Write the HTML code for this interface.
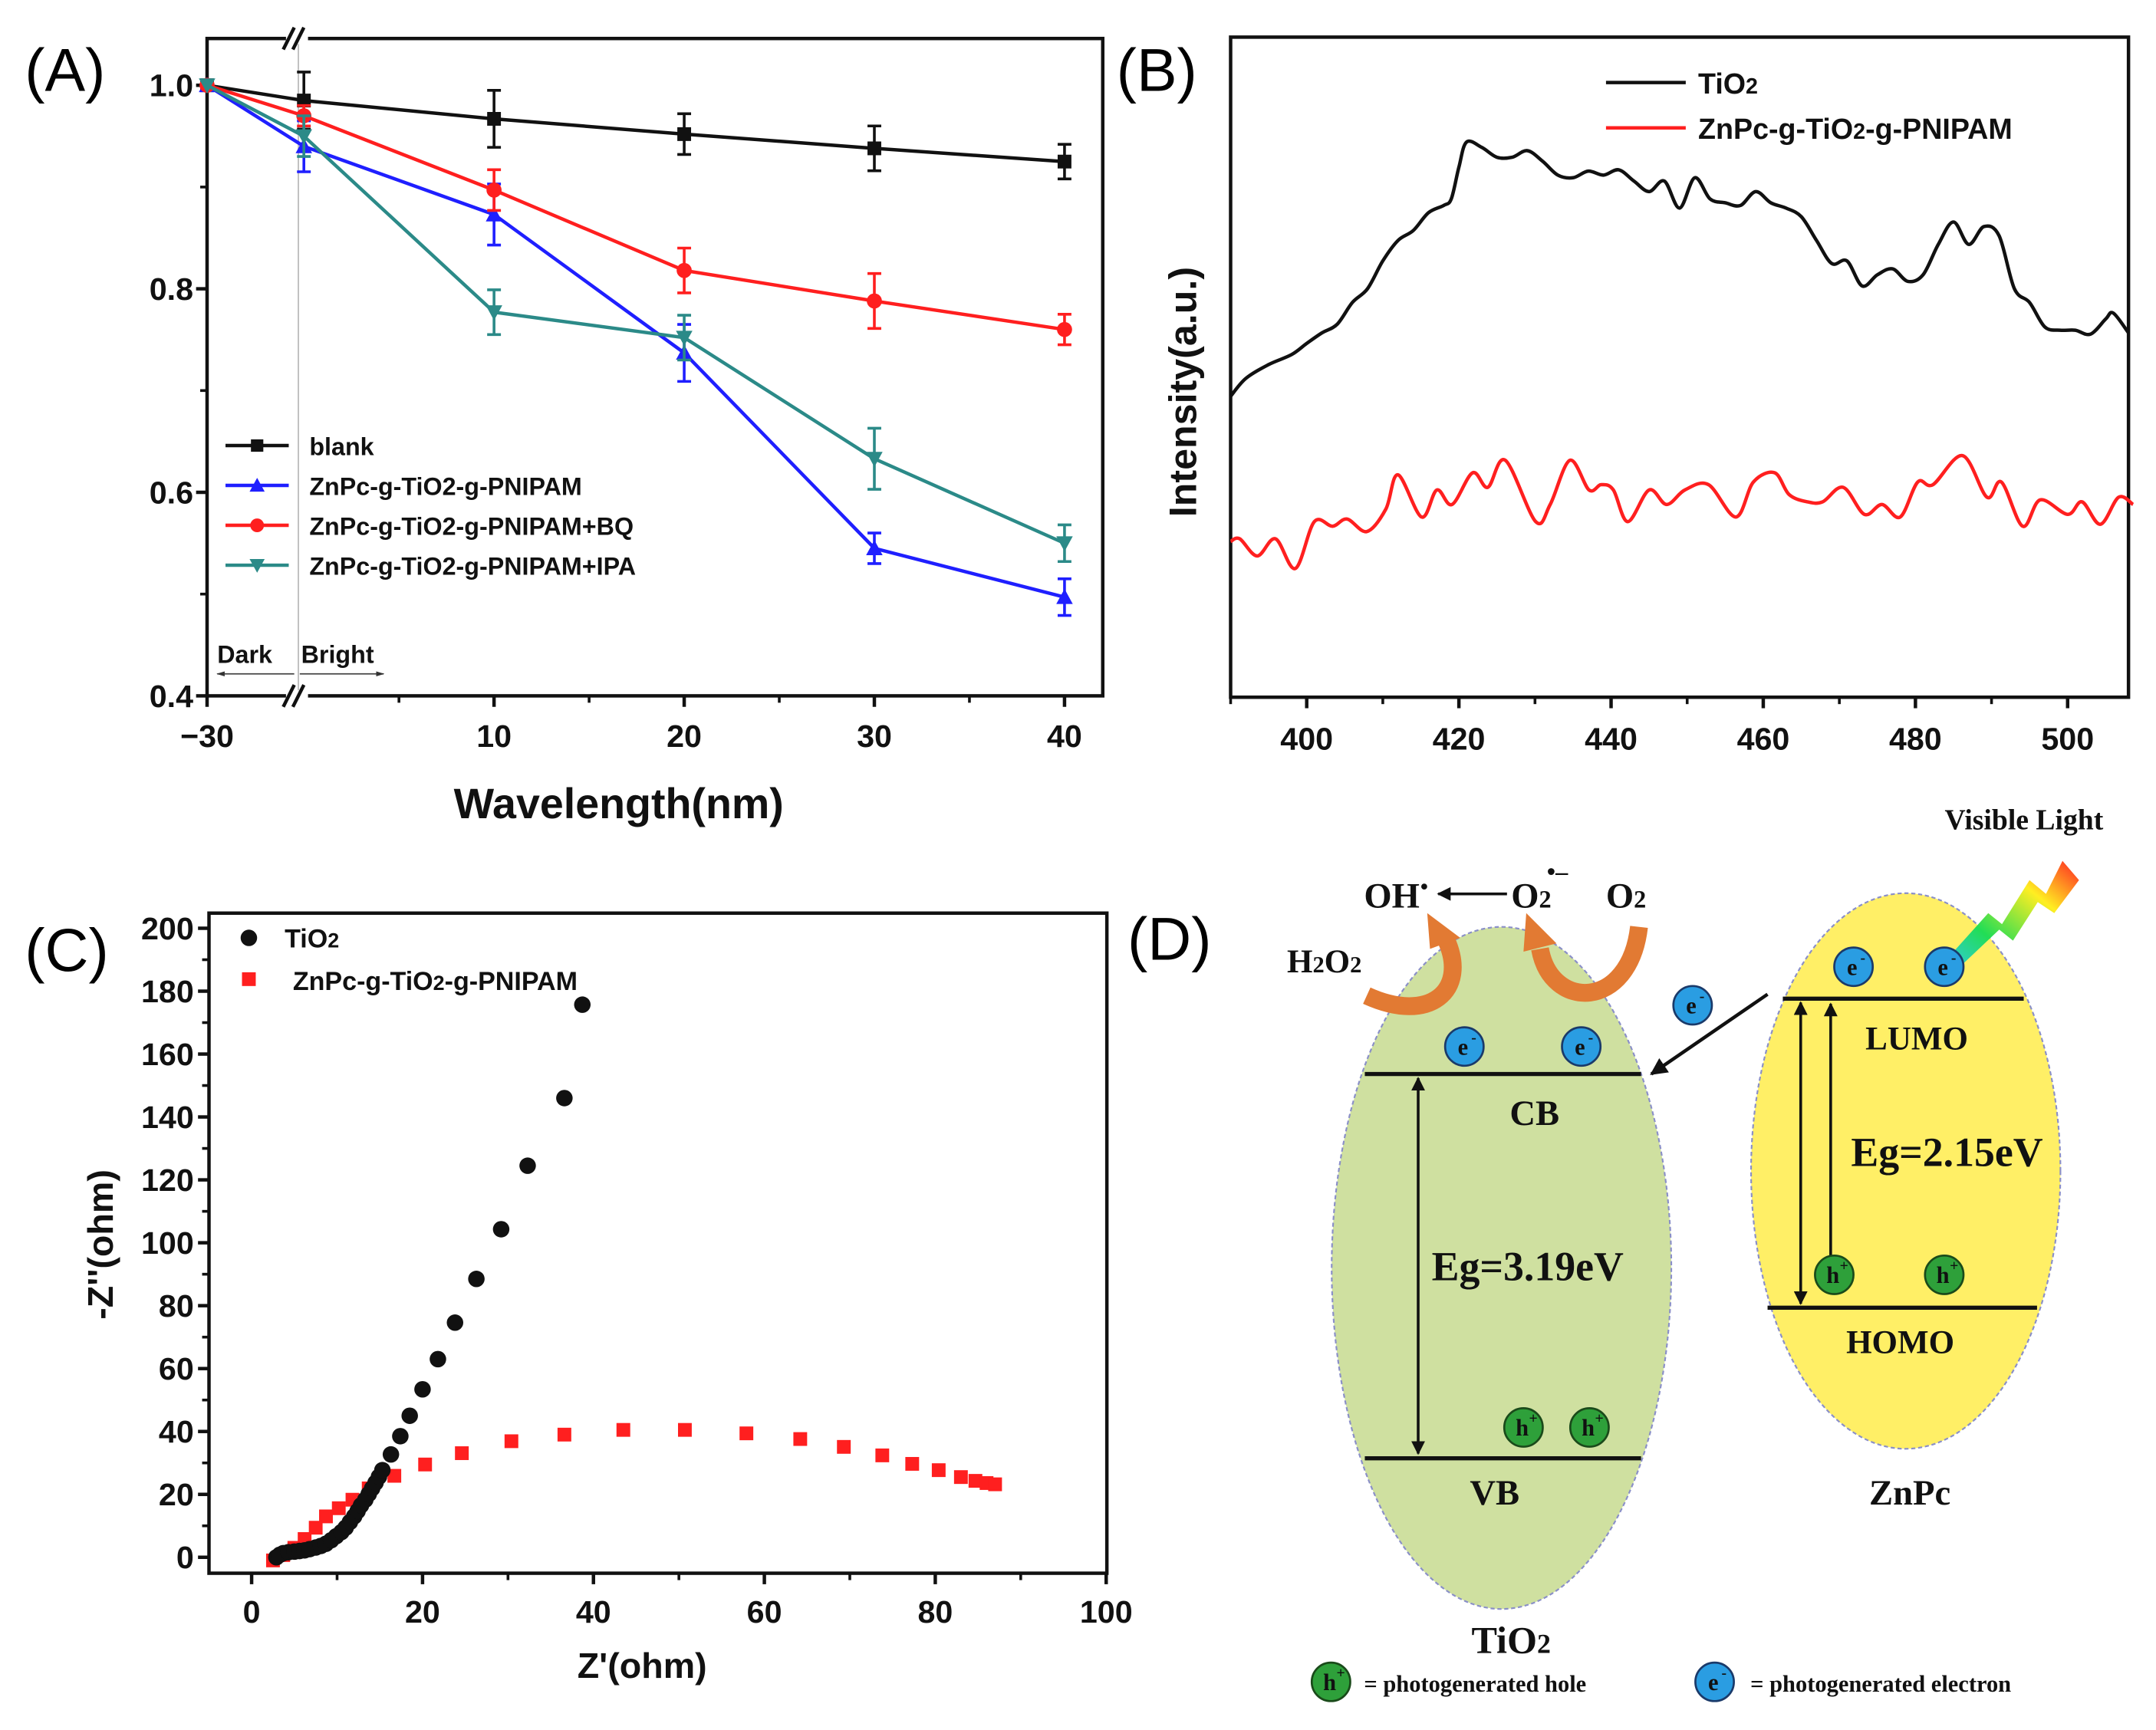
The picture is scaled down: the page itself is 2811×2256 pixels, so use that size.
<!DOCTYPE html>
<html><head><meta charset="utf-8"><style>
html,body{margin:0;padding:0;background:#fff;}
svg{display:block;}
text{font-family:"Liberation Sans",Arial,sans-serif;}
.serif{font-family:"Liberation Serif","Times New Roman",serif;font-weight:bold;}
.tick{font-size:23px;font-weight:bold;fill:#111;}
.leg{font-size:18px;font-weight:bold;fill:#111;}
</style></head><body>
<svg id="fig" width="2811" height="2256" viewBox="0 0 1568 1258" preserveAspectRatio="none" xmlns="http://www.w3.org/2000/svg">
<defs>
<linearGradient id="lg" x1="0" y1="1" x2="1" y2="0">
<stop offset="0" stop-color="#33c8ff"/><stop offset="0.35" stop-color="#22dd55"/><stop offset="0.7" stop-color="#ffee22"/><stop offset="1" stop-color="#ff2222"/></linearGradient>
<marker id="ah" viewBox="0 0 10 10" refX="9" refY="5" markerWidth="5" markerHeight="5" orient="auto-start-reverse"><path d="M0,0 L10,5 L0,10 z" fill="#111"/></marker>
<marker id="ahg" viewBox="0 0 10 10" refX="9" refY="5" markerWidth="8" markerHeight="6" orient="auto-start-reverse"><path d="M0,2 L10,5 L0,8 z" fill="#333"/></marker>
</defs>
<g id="pa"></g>
<g id="pb"></g>
<g id="pc"></g>
<g id="pd"></g>
</svg>
<script>
// ---------- Panel A data ----------
const aX = [-30, 0, 10, 20, 30, 40];
const aXTicks = [-30, 10, 20, 30, 40];
const aYTicks = [0.4, 0.6, 0.8, 1.0];
const aNames = ["blank", "ZnPc-g-TiO2-g-PNIPAM", "ZnPc-g-TiO2-g-PNIPAM+BQ", "ZnPc-g-TiO2-g-PNIPAM+IPA"];
const aBlank = [1.0, 0.985, 0.967, 0.952, 0.938, 0.925];
const aBlue = [1.0, 0.94, 0.873, 0.737, 0.545, 0.497];
const aRed = [1.0, 0.97, 0.897, 0.818, 0.788, 0.76];
const aTeal = [1.0, 0.95, 0.777, 0.752, 0.633, 0.55];
const aBlankErr = [0, 0.028, 0.028, 0.02, 0.022, 0.017];
const aBlueErr = [0, 0.025, 0.03, 0.028, 0.015, 0.018];
const aRedErr = [0, 0.01, 0.02, 0.022, 0.027, 0.015];
const aTealErr = [0, 0.02, 0.022, 0.022, 0.03, 0.018];
// ---------- Panel B data ----------
const bXTicks = [400, 420, 440, 460, 480, 500];
const bTiO2X = [390,392,395,398,400,402,404,406,408,410,412,414,416,418,419,420,421,423,425,427,429,431,433,435,437,439,441,443,445,447,449,451,453,455,457,459,461,463,465,467,469,471,473,475,477,479,481,483,485,487,489,491,493,495,497,499,501,503,505,506,508];
const bTiO2Y = [45.6,48.3,50.4,51.9,53.6,55.2,56.5,59.8,61.9,66.1,69.2,70.7,73.4,74.5,75.5,80.3,84.1,83.3,81.8,81.8,82.8,81.2,79.1,78.7,79.7,79.1,79.9,78.2,76.6,78.2,74.1,78.7,75.5,74.9,74.5,76.6,74.9,74.1,72.8,69.2,65.7,66.1,62.3,64.0,64.9,63.0,64.0,68.6,72.0,68.6,71.3,69.9,61.9,59.8,56.1,55.6,55.6,55.0,57.3,58.2,55.2];
const bZnX = [390,391.2,393.5,395.9,398.5,401,403.4,405.3,407.9,410.4,412,415.1,417.1,419.1,421.8,423.8,426.1,430.1,432,434.6,437.1,438.7,440.3,442.2,445,447.3,449.7,452.8,456.4,458.7,461.5,463.4,465.8,467.8,470.5,473.3,475.6,478,480.3,482.3,486.2,489.4,491.3,494.1,496.4,500,501.9,504.3,506.7,508.6];
const bZnY = [23.6,24.0,21.4,24.0,19.5,26.6,25.9,27.0,25.1,28.5,33.7,27.3,31.4,29.2,34.0,31.8,35.9,26.6,29.2,35.9,31.4,32.2,31.4,26.6,31.4,29.2,31.4,32.2,27.3,32.6,34.0,30.7,29.6,29.6,31.8,27.7,29.2,27.3,32.6,32.2,36.6,30.3,32.6,25.9,29.9,27.7,29.6,26.2,30.3,29.2];
// ---------- Panel C data ----------
const cXTicks = [0, 20, 40, 60, 80, 100];
const cYTicks = [0, 20, 40, 60, 80, 100, 120, 140, 160, 180, 200];
const cTiO2X = [2.9,3.3,3.7,4.3,5,5.6,6.2,6.8,7.5,8.1,8.7,9.3,9.9,10.5,11,11.5,12,12.4,12.8,13.3,13.7,14.1,14.5,14.9,15.3,16.3,17.4,18.5,20,21.8,23.8,26.3,29.2,32.3,36.6,38.7];
const cTiO2Y = [0,0.8,1.3,1.6,1.8,2,2.2,2.6,3.1,3.6,4.3,5.4,6.7,8,9.4,11.2,13,14.7,16.5,18.3,20.1,21.9,23.7,25.6,27.7,32.7,38.5,45,53.4,63,74.6,88.5,104.3,124.5,146,175.7];
const cZnX = [2.5,3.7,5,6.2,7.5,8.7,10.2,11.8,13.7,16.7,20.3,24.6,30.4,36.6,43.5,50.7,57.9,64.2,69.3,73.8,77.3,80.4,83,84.7,86,87];
const cZnY = [-1,0.7,3,5.8,9.4,13,15.6,18.3,21.9,25.9,29.5,33.1,36.9,39,40.5,40.5,39.4,37.6,35.1,32.4,29.7,27.7,25.5,24.3,23.6,23.2];

const NS = "http://www.w3.org/2000/svg";
function mk(parent, tag, attrs, txt) {
  const e = document.createElementNS(NS, tag);
  for (const k in attrs) e.setAttribute(k, attrs[k]);
  if (txt !== undefined) e.textContent = txt;
  parent.appendChild(e);
  return e;
}
function smoothPath(pts) {
  let d = 'M' + pts[0][0] + ',' + pts[0][1];
  for (let i = 0; i < pts.length - 1; i++) {
    const p0 = pts[Math.max(0, i - 1)], p1 = pts[i], p2 = pts[i + 1], p3 = pts[Math.min(pts.length - 1, i + 2)];
    const c1x = p1[0] + (p2[0] - p0[0]) / 6, c1y = p1[1] + (p2[1] - p0[1]) / 6;
    const c2x = p2[0] - (p3[0] - p1[0]) / 6, c2y = p2[1] - (p3[1] - p1[1]) / 6;
    d += ` C${c1x},${c1y} ${c2x},${c2y} ${p2[0]},${p2[1]}`;
  }
  return d;
}

// ===================== PANEL A =====================
(function(){
  const g = document.getElementById('pa');
  const L = 150.6, R = 802, T = 28, B = 506;
  const xA = v => v <= -30 ? L : 221 + v * 13.83;
  const yA = v => 506 - (v - 0.4) * 740;
  let t = mk(g, 'text', {x: 18, y: 66, 'font-size': 44});
  t.textContent = '(A)';
  
  
  let f = mk(g, 'rect', {x: L, y: T, width: R - L, height: B - T, fill: 'none', stroke: '#111', 'stroke-width': 2.5});
  
  
  mk(g, 'line', {x1: 217, y1: T, x2: 217, y2: B, stroke: '#bbb', 'stroke-width': 1});
  for (const yy of [T, B]) {
    mk(g, 'rect', {x: 208, y: yy - 4, width: 16, height: 8, fill: '#fff'});
    mk(g, 'line', {x1: 206, y1: yy + 8, x2: 214, y2: yy - 8, stroke: '#111', 'stroke-width': 2.5});
    mk(g, 'line', {x1: 213, y1: yy + 8, x2: 221, y2: yy - 8, stroke: '#111', 'stroke-width': 2.5});
  }
  aXTicks.forEach(v => {
    const x = xA(v);
    const tk = mk(g, 'line', {x1: x, y1: B, x2: x, y2: B + 8, stroke: '#111', 'stroke-width': 2.5});
    
    
    const lb = mk(g, 'text', {x: x, y: B + 37, 'text-anchor': 'middle', class: 'tick'}, v < 0 ? '\u221230' : String(v));
    
    
  });
  [5, 15, 25, 35].forEach(v => mk(g, 'line', {x1: xA(v), y1: B, x2: xA(v), y2: B + 5, stroke: '#111', 'stroke-width': 2}));
  aYTicks.forEach(v => {
    const y = yA(v);
    mk(g, 'line', {x1: L - 8, y1: y, x2: L, y2: y, stroke: '#111', 'stroke-width': 2.5});
    const lb = mk(g, 'text', {x: L - 10, y: y + 8, 'text-anchor': 'end', class: 'tick'}, v.toFixed(1));
    
    
  });
  [0.5, 0.7, 0.9].forEach(v => mk(g, 'line', {x1: L - 5, y1: yA(v), x2: L, y2: yA(v), stroke: '#111', 'stroke-width': 2}));
  let xt = mk(g, 'text', {x: 450, y: 595, 'text-anchor': 'middle', 'font-size': 31, 'font-weight': 'bold', fill: '#111'}, 'Wavelength(nm)');
  
  
  mk(g, 'text', {x: 158, y: 482, class: 'leg'}, 'Dark');
  mk(g, 'text', {x: 219, y: 482, class: 'leg'}, 'Bright');
  mk(g, 'line', {x1: 214, y1: 490, x2: 158, y2: 490, stroke: '#444', 'stroke-width': 1, 'marker-end': 'url(#ahg)'});
  mk(g, 'line', {x1: 218, y1: 490, x2: 279, y2: 490, stroke: '#444', 'stroke-width': 1, 'marker-end': 'url(#ahg)'});

  const series = [
    {vals: aBlank, err: aBlankErr, col: '#111', m: 'sq', name: 'blank'},
    {vals: aBlue, err: aBlueErr, col: '#1f1fff', m: 'up', name: 'znpc'},
    {vals: aRed, err: aRedErr, col: '#ff1f1f', m: 'ci', name: 'bq'},
    {vals: aTeal, err: aTealErr, col: '#2b8a88', m: 'dn', name: 'ipa'}
  ];
  function marker(p, kind, x, y, col, s) {
    if (kind === 'sq') return mk(p, 'rect', {x: x - s, y: y - s, width: 2 * s, height: 2 * s, fill: col});
    if (kind === 'ci') return mk(p, 'circle', {cx: x, cy: y, r: s + 0.5, fill: col});
    if (kind === 'up') return mk(p, 'path', {d: `M${x},${y - s - 1} L${x + s + 1},${y + s} L${x - s - 1},${y + s} Z`, fill: col});
    return mk(p, 'path', {d: `M${x},${y + s + 1} L${x + s + 1},${y - s} L${x - s - 1},${y - s} Z`, fill: col});
  }
  series.forEach((s) => {
    const sg = mk(g, 'g', {});
    
    
    const d = s.vals.map((v, i) => (i ? 'L' : 'M') + xA(aX[i]) + ',' + yA(v)).join(' ');
    const ln = mk(sg, 'path', {d: d, fill: 'none', stroke: s.col, 'stroke-width': 2.5});
    
    
    s.vals.forEach((v, i) => {
      const x = xA(aX[i]), y = yA(v), e = s.err[i] * 740;
      if (e > 0) {
        mk(sg, 'path', {d: `M${x},${y - e} V${y + e} M${x - 5},${y - e} H${x + 5} M${x - 5},${y + e} H${x + 5}`, stroke: s.col, 'stroke-width': 2, fill: 'none'});
      }
      const mm = marker(sg, s.m, x, y, s.col, 5);
      
      
    });
    const li = series.indexOf(s);
    const ly = 324 + li * 29;
    const le = mk(g, 'g', {});
    
    
    mk(le, 'line', {x1: 164, y1: ly, x2: 210, y2: ly, stroke: s.col, 'stroke-width': 2.5});
    marker(le, s.m, 187, ly, s.col, 4.5);
    mk(le, 'text', {x: 225, y: ly + 7, class: 'leg'}, aNames[li]);
  });
})();

// ===================== PANEL B =====================
(function(){
  const g = document.getElementById('pb');
  const L = 895, R = 1548, T = 27, B = 507;
  const xB = v => L + (v - 390) * (R - L) / 118;
  const yB = v => B - v * 4.8;
  let t = mk(g, 'text', {x: 812, y: 66, 'font-size': 44}, '(B)');
  
  
  let f = mk(g, 'rect', {x: L, y: T, width: R - L, height: B - T, fill: 'none', stroke: '#111', 'stroke-width': 2.5});
  
  
  bXTicks.forEach(v => {
    mk(g, 'line', {x1: xB(v), y1: B, x2: xB(v), y2: B + 8, stroke: '#111', 'stroke-width': 2.5});
    const lb = mk(g, 'text', {x: xB(v), y: B + 38, 'text-anchor': 'middle', class: 'tick'}, String(v));
    
    
  });
  [390, 410, 430, 450, 470, 490].forEach(v => mk(g, 'line', {x1: xB(v), y1: B, x2: xB(v), y2: B + 5, stroke: '#111', 'stroke-width': 2}));
  let yt = mk(g, 'text', {x: 0, y: 0, transform: 'translate(870,285) rotate(-90)', 'text-anchor': 'middle', 'font-size': 28, 'font-weight': 'bold', fill: '#111'}, 'Intensity(a.u.)');
  
  
  const l1 = mk(g, 'path', {d: smoothPath(bTiO2X.map((x, i) => [xB(x), yB(bTiO2Y[i])])), fill: 'none', stroke: '#111', 'stroke-width': 2.5, 'stroke-linejoin': 'round'});
  
  
  const l2 = mk(g, 'path', {d: smoothPath(bZnX.map((x, i) => [xB(x), yB(bZnY[i])])), fill: 'none', stroke: '#ff1f1f', 'stroke-width': 2.5, 'stroke-linejoin': 'round'});
  
  
  const le1 = mk(g, 'g', {});
  
  
  mk(le1, 'line', {x1: 1168, y1: 60, x2: 1226, y2: 60, stroke: '#111', 'stroke-width': 2.5});
  const t1 = mk(le1, 'text', {x: 1235, y: 68, 'font-size': 21, 'font-weight': 'bold', fill: '#111'}, 'TiO');
  mk(t1, 'tspan', {'font-size': 16}, '2');
  const le2 = mk(g, 'g', {});
  
  
  mk(le2, 'line', {x1: 1168, y1: 93, x2: 1226, y2: 93, stroke: '#ff1f1f', 'stroke-width': 2.5});
  const t2 = mk(le2, 'text', {x: 1235, y: 101, 'font-size': 21, 'font-weight': 'bold', fill: '#111'}, 'ZnPc-g-TiO');
  mk(t2, 'tspan', {'font-size': 16}, '2');
  mk(t2, 'tspan', {}, '-g-PNIPAM');
})();

// ===================== PANEL C =====================
(function(){
  const g = document.getElementById('pc');
  const L = 152, R = 805, T = 664, B = 1144;
  const xC = v => 183 + v * 6.215;
  const yC = v => 1132.4 - v * 2.287;
  let t = mk(g, 'text', {x: 18, y: 706, 'font-size': 44}, '(C)');
  
  
  let f = mk(g, 'rect', {x: L, y: T, width: R - L, height: B - T, fill: 'none', stroke: '#111', 'stroke-width': 2.5});
  
  
  cXTicks.forEach(v => {
    mk(g, 'line', {x1: xC(v), y1: B, x2: xC(v), y2: B + 8, stroke: '#111', 'stroke-width': 2.5});
    const lb = mk(g, 'text', {x: xC(v), y: B + 36, 'text-anchor': 'middle', class: 'tick'}, String(v));
    
    
    if (v < 100) mk(g, 'line', {x1: xC(v + 10), y1: B, x2: xC(v + 10), y2: B + 5, stroke: '#111', 'stroke-width': 2});
  });
  cYTicks.forEach(v => {
    mk(g, 'line', {x1: L - 8, y1: yC(v), x2: L, y2: yC(v), stroke: '#111', 'stroke-width': 2.5});
    const lb = mk(g, 'text', {x: L - 11, y: yC(v) + 8, 'text-anchor': 'end', class: 'tick'}, String(v));
    
    
    if (v < 200) mk(g, 'line', {x1: L - 5, y1: yC(v + 10), x2: L, y2: yC(v + 10), stroke: '#111', 'stroke-width': 2});
  });
  let xt = mk(g, 'text', {x: 467, y: 1220, 'text-anchor': 'middle', 'font-size': 26, 'font-weight': 'bold', fill: '#111'}, "Z'(ohm)");
  
  
  let yt = mk(g, 'text', {x: 0, y: 0, transform: 'translate(82,905) rotate(-90)', 'text-anchor': 'middle', 'font-size': 26, 'font-weight': 'bold', fill: '#111'}, "-Z''(ohm)");
  
  
  cZnX.forEach((x, i) => {
    const p = mk(g, 'rect', {x: xC(x) - 5, y: yC(cZnY[i]) - 5, width: 10, height: 10, fill: '#ff1f1f'});
    
    
  });
  cTiO2X.forEach((x, i) => {
    const p = mk(g, 'circle', {cx: xC(x), cy: yC(cTiO2Y[i]), r: 6, fill: '#111'});
    
    
  });
  const le1 = mk(g, 'g', {});
  
  
  mk(le1, 'circle', {cx: 181, cy: 682, r: 6, fill: '#111'});
  const t1 = mk(le1, 'text', {x: 207, y: 689, 'font-size': 19, 'font-weight': 'bold', fill: '#111'}, 'TiO');
  mk(t1, 'tspan', {'font-size': 15}, '2');
  const le2 = mk(g, 'g', {});
  
  
  mk(le2, 'rect', {x: 176, y: 707, width: 10, height: 10, fill: '#ff1f1f'});
  const t2 = mk(le2, 'text', {x: 213, y: 720, 'font-size': 19, 'font-weight': 'bold', fill: '#111'}, 'ZnPc-g-TiO');
  mk(t2, 'tspan', {'font-size': 15}, '2');
  mk(t2, 'tspan', {}, '-g-PNIPAM');
})();

// ===================== PANEL D =====================
(function(){
  const g = document.getElementById('pd');
  let t = mk(g, 'text', {x: 820, y: 698, 'font-size': 44}, '(D)');
  
  
  const e1 = mk(g, 'ellipse', {cx: 1092, cy: 922, rx: 123.5, ry: 248, fill: '#cfe0a0', stroke: '#8a8fc8', 'stroke-width': 1.2, 'stroke-dasharray': '3 2'});
  
  
  const e2 = mk(g, 'ellipse', {cx: 1386, cy: 851.5, rx: 112.5, ry: 202, fill: '#ffef66', stroke: '#8a8fc8', 'stroke-width': 1.2, 'stroke-dasharray': '3 2'});
  
  
  const lines = [[992.6, 1193.5, 781, 'cb-level'], [992.6, 1193.5, 1060.4, 'vb-level'], [1296.6, 1471.8, 726.2, 'lumo-level'], [1285.5, 1481.5, 950.9, 'homo-level']];
  lines.forEach(l => {
    const e = mk(g, 'line', {x1: l[0], x2: l[1], y1: l[2], y2: l[2], stroke: '#111', 'stroke-width': 3});
    
    
  });
  mk(g, 'line', {x1: 1031.4, y1: 784, x2: 1031.4, y2: 1057, stroke: '#111', 'stroke-width': 2, 'marker-start': 'url(#ah)', 'marker-end': 'url(#ah)'});
  mk(g, 'line', {x1: 1309.6, y1: 729, x2: 1309.6, y2: 948, stroke: '#111', 'stroke-width': 2, 'marker-start': 'url(#ah)', 'marker-end': 'url(#ah)'});
  mk(g, 'line', {x1: 1331.4, y1: 918, x2: 1331.4, y2: 730, stroke: '#111', 'stroke-width': 2, 'marker-end': 'url(#ah)'});
  mk(g, 'line', {x1: 1285.5, y1: 723, x2: 1201, y2: 781, stroke: '#111', 'stroke-width': 2.5, 'marker-end': 'url(#ah)'});
  const labs = [['CB', 1116, 818, 26], ['VB', 1087, 1094, 26], ['LUMO', 1394, 763, 24], ['HOMO', 1382, 984, 24], ['Eg=3.19eV', 1111, 931, 30], ['Eg=2.15eV', 1416, 848, 30], ['ZnPc', 1389, 1094, 26]];
  labs.forEach(l => {
    const e = mk(g, 'text', {x: l[1], y: l[2], 'text-anchor': 'middle', class: 'serif', 'font-size': l[3], fill: '#111'}, l[0]);
    
    
  });
  const tt = mk(g, 'text', {x: 1099, y: 1202, 'text-anchor': 'middle', class: 'serif', 'font-size': 28, fill: '#111'}, 'TiO');
  mk(tt, 'tspan', {'font-size': 20}, '2');
  mk(g, 'path', {d: 'M994,724 C1040,745 1068,720 1052,684', fill: 'none', stroke: '#e27a33', 'stroke-width': 13});
  mk(g, 'path', {d: 'M1038,664 L1062,682 L1040,690 Z', fill: '#e27a33'});
  mk(g, 'path', {d: 'M1192,674 C1185,735 1128,735 1120,690', fill: 'none', stroke: '#e27a33', 'stroke-width': 13});
  mk(g, 'path', {d: 'M1110,664 L1132,686 L1108,692 Z', fill: '#e27a33'});
  const oh = mk(g, 'text', {x: 992, y: 660, class: 'serif', 'font-size': 26, fill: '#111'}, 'OH');
  
  
  mk(g, 'text', {x: 1033, y: 650, class: 'serif', 'font-size': 16, fill: '#111'}, '\u2022');
  mk(g, 'line', {x1: 1096, y1: 650, x2: 1046, y2: 650, stroke: '#111', 'stroke-width': 2, 'marker-end': 'url(#ah)'});
  const o2r = mk(g, 'text', {x: 1099, y: 660, class: 'serif', 'font-size': 26, fill: '#111'}, 'O');
  mk(o2r, 'tspan', {'font-size': 18}, '2');
  mk(g, 'text', {x: 1125, y: 640, class: 'serif', 'font-size': 18, fill: '#111'}, '\u2022\u2013');
  const o2 = mk(g, 'text', {x: 1168, y: 660, class: 'serif', 'font-size': 26, fill: '#111'}, 'O');
  mk(o2, 'tspan', {'font-size': 18}, '2');
  const h2 = mk(g, 'text', {x: 936, y: 707, class: 'serif', 'font-size': 24, fill: '#111'}, 'H');
  mk(h2, 'tspan', {'font-size': 17}, '2');
  mk(h2, 'tspan', {}, 'O');
  mk(h2, 'tspan', {'font-size': 17}, '2');
  const vl = mk(g, 'text', {x: 1472, y: 603, 'text-anchor': 'middle', class: 'serif', 'font-size': 21, fill: '#111'}, 'Visible Light');
  
  
  const lt = mk(g, 'path', {d: 'M1410,704 L1446,664 L1456,672 L1476,640 L1488,650 L1500,626 L1512,640 L1494,664 L1482,656 L1464,684 L1454,676 L1418,710 Z', fill: 'url(#lg)'});
  
  
  function elec(x, y, nm) {
    const e = mk(g, 'g', {});
    
    
    mk(e, 'circle', {cx: x, cy: y, r: 14, fill: '#2a9de2', stroke: '#1a3a6a', 'stroke-width': 1.5});
    mk(e, 'text', {x: x - 1, y: y + 6, 'text-anchor': 'middle', class: 'serif', 'font-size': 17, fill: '#111'}, 'e');
    mk(e, 'text', {x: x + 5, y: y - 3, class: 'serif', 'font-size': 11, fill: '#111'}, '-');
  }
  function hole(x, y, nm) {
    const e = mk(g, 'g', {});
    
    
    mk(e, 'circle', {cx: x, cy: y, r: 14, fill: '#2ea03a', stroke: '#1a4a1a', 'stroke-width': 1.5});
    mk(e, 'text', {x: x - 1, y: y + 6, 'text-anchor': 'middle', class: 'serif', 'font-size': 17, fill: '#111'}, 'h');
    mk(e, 'text', {x: x + 4, y: y - 3, class: 'serif', 'font-size': 11, fill: '#111'}, '+');
  }
  elec(1065, 761, 'electron'); elec(1150, 761, 'electron');
  elec(1348, 703, 'electron'); elec(1414, 703, 'electron');
  elec(1231, 731, 'electron');
  hole(1108, 1038, 'hole'); hole(1156, 1038, 'hole');
  hole(1334, 927, 'hole'); hole(1414, 927, 'hole');
  hole(968, 1223, 'legend-hole-icon');
  elec(1247, 1223, 'legend-electron-icon');
  mk(g, 'text', {x: 992, y: 1230, class: 'serif', 'font-size': 17, fill: '#111'}, '= photogenerated hole');
  mk(g, 'text', {x: 1273, y: 1230, class: 'serif', 'font-size': 17, fill: '#111'}, '= photogenerated electron');
})();
</script>
</body></html>
